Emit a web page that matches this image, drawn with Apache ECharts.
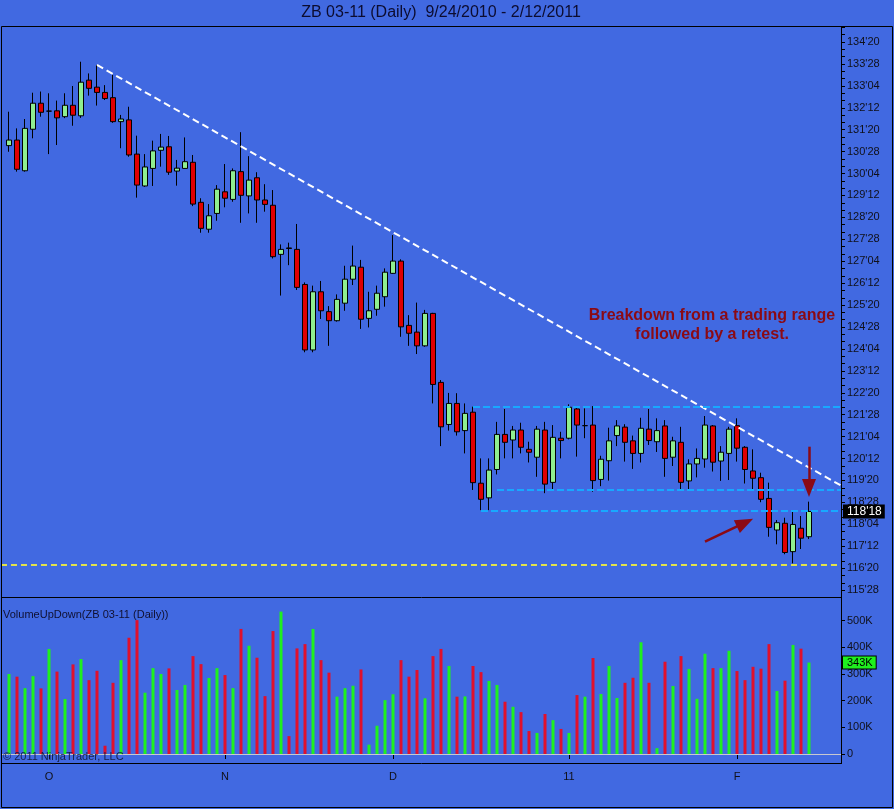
<!DOCTYPE html>
<html>
<head>
<meta charset="utf-8">
<title>ZB 03-11 (Daily)</title>
<script src="https://cdn.jsdelivr.net/npm/echarts@6/dist/echarts.min.js"></script>
<style>
    html, body { margin: 0; padding: 0; background: #4169e1; }
    #chart { width: 894px; height: 809px; }
</style>
</head>
<body>
<div id="chart"></div>
<script>
'use strict';

// ---------------------------------------------------------------------------------------------
// DATA, one entry per daily bar, 9/24/2010 .. 2/11/2011
const opens = [
    131.08, 131.27, 130.22, 131.64, 132.53, 132.26, 132.27, 132.07, 132.46, 132.10,
    133.32, 133.08, 132.90, 132.72, 131.90, 131.96, 130.79, 129.70, 130.30, 130.92,
    131.04, 130.21, 130.30, 130.51, 129.14, 128.22, 128.76, 129.50, 129.24, 130.19,
    129.36, 129.98, 129.22, 129.04, 127.36, 127.58, 127.53, 126.33, 124.09, 126.08,
    125.40, 125.09, 125.69, 126.51, 126.92, 125.17, 125.48, 125.91, 126.71, 127.13,
    124.93, 124.70, 124.23, 125.34, 122.98, 121.54, 122.26, 121.33, 121.96, 119.53,
    119.03, 120.00, 121.20, 121.01, 121.35, 120.69, 120.42, 121.35, 119.56, 121.07,
    121.07, 122.07, 121.50, 121.52, 119.66, 120.30, 121.16, 121.45, 120.98, 120.55,
    121.38, 120.95, 121.49, 120.42, 120.93, 119.61, 120.19, 120.36, 121.49, 120.29,
    120.55, 121.50, 120.76, 119.95, 119.72, 119.01, 117.93, 118.16, 117.19, 117.99,
    117.70
];
const closes = [
    131.27, 130.27, 131.67, 132.53, 132.22, 132.26, 132.03, 132.46, 132.12, 133.25,
    133.04, 132.90, 132.69, 131.90, 131.99, 130.76, 129.73, 130.35, 130.90, 131.03,
    130.17, 130.31, 130.53, 129.08, 128.25, 128.68, 129.59, 129.28, 130.22, 129.38,
    129.90, 129.22, 129.07, 127.28, 127.53, 127.56, 126.23, 124.09, 126.08, 125.43,
    125.09, 125.82, 126.51, 126.96, 125.14, 125.43, 126.03, 126.75, 127.13, 124.88,
    124.66, 124.23, 125.34, 122.91, 121.46, 122.26, 121.29, 121.92, 119.55, 118.98,
    119.98, 121.20, 120.93, 121.35, 120.76, 120.59, 121.38, 119.50, 121.10, 120.99,
    122.13, 121.52, 121.50, 119.62, 120.35, 120.98, 121.49, 120.93, 120.55, 121.41,
    120.99, 121.33, 120.38, 120.98, 119.56, 120.19, 120.38, 121.52, 120.25, 120.59,
    121.38, 120.73, 120.00, 119.70, 118.98, 118.02, 118.18, 117.16, 118.12, 117.65,
    118.5625
];
const lows = [
    130.87, 130.19, 130.19, 131.33, 132.07, 130.79, 131.10, 132.02, 131.76, 132.03,
    132.79, 132.45, 132.64, 131.86, 130.99, 130.70, 129.30, 129.67, 129.70, 130.36,
    130.08, 129.71, 130.30, 129.01, 128.10, 128.10, 128.51, 128.97, 129.16, 128.44,
    128.76, 128.44, 128.82, 127.22, 125.95, 126.99, 126.14, 124.01, 124.01, 125.15,
    124.23, 125.06, 125.43, 126.31, 124.81, 124.86, 125.26, 125.57, 126.69, 124.54,
    124.23, 123.95, 124.20, 122.26, 120.80, 121.33, 121.16, 120.55, 119.30, 118.61,
    118.61, 119.83, 120.38, 120.38, 120.55, 120.24, 119.75, 119.19, 119.30, 120.38,
    121.03, 120.44, 121.07, 119.24, 119.43, 119.62, 120.80, 120.27, 120.02, 120.24,
    120.84, 120.60, 119.75, 120.12, 119.30, 119.32, 119.73, 120.06, 119.93, 119.61,
    119.64, 120.27, 119.52, 119.32, 118.88, 117.70, 117.44, 117.10, 116.79, 117.28,
    117.62
];
const highs = [
    132.24, 131.67, 131.99, 132.89, 132.93, 132.87, 132.62, 132.87, 133.12, 133.95,
    133.55, 133.84, 133.15, 133.50, 132.13, 132.41, 131.42, 130.79, 131.25, 131.48,
    131.41, 130.59, 131.36, 130.76, 129.28, 129.08, 129.73, 130.45, 130.30, 131.54,
    130.72, 130.17, 129.76, 129.56, 127.70, 127.76, 128.40, 126.40, 126.29, 126.45,
    125.59, 125.99, 126.97, 127.66, 127.17, 126.08, 126.29, 126.88, 128.02, 127.19,
    125.28, 125.71, 125.46, 125.36, 123.06, 122.62, 122.61, 122.26, 122.15, 120.38,
    120.38, 121.63, 122.07, 121.49, 121.60, 120.95, 121.49, 121.63, 121.52, 121.29,
    122.23, 122.15, 122.09, 122.17, 120.47, 121.43, 121.69, 121.55, 121.16, 121.77,
    122.07, 121.75, 121.69, 121.12, 121.46, 120.35, 120.72, 121.83, 121.52, 120.80,
    121.46, 121.75, 120.80, 120.69, 119.89, 119.55, 118.27, 118.35, 118.56, 118.41,
    118.90
];
// volume in thousands of contracts
const volumesK = [
    300, 290, 247, 292, 246, 394, 309, 206, 336, 356,
    277, 312, 31, 267, 352, 436, 502, 230, 322, 300,
    321, 240, 259, 367, 337, 285, 322, 296, 247, 469,
    406, 361, 217, 461, 534, 67, 396, 412, 469, 352,
    305, 215, 247, 256, 317, 35, 106, 202, 224, 352,
    290, 315, 209, 367, 394, 330, 215, 216, 330, 307,
    274, 259, 196, 177, 157, 86, 79, 150, 127, 94,
    79, 221, 215, 360, 225, 330, 210, 267, 286, 419,
    267, 22, 346, 255, 367, 319, 207, 376, 322, 322,
    387, 311, 277, 327, 320, 412, 236, 275, 409, 395,
    343
];

// month markers on the time axis (bar index of first session)
const monthStarts = [5, 27, 48, 70, 91];
const monthLabels = ['O', 'N', 'D', '11', 'F'];

// price axis labels, in points and 32nds
const priceTickLabels = [
    "115'28", "116'20", "117'12", "118'04", "118'28", "119'20", "120'12", "121'04", "121'28",
    "122'20", "123'12", "124'04", "124'28", "125'20", "126'12", "127'04", "127'28", "128'20",
    "129'12", "130'04", "130'28", "131'20", "132'12", "133'04", "133'28", "134'20"
];
const volumeTicksK = [0, 100, 200, 300, 400, 500];

// drawing objects on the chart: [bar index, price]
const trendLine = [[11, 133.84], [104, 119.45]];
const rangeTop = [[58, 122.14], [104, 122.14]];
const rangeMid = [[61, 119.30], [104, 119.30]];
const rangeLow = [[59, 118.58], [104, 118.58]];
const supportLine = [[-1, 116.73], [104, 116.73]];
const arrowBreak = [[87, 117.53], [92, 118.18]];
const arrowRetest = [[100, 120.78], [100, 119.37]];

// ---------------------------------------------------------------------------------------------
// helpers

// one empty slot in front of the first bar, axis ends 4 slots after the last one
const SLOTS = 106;
const categories = [];
for (let k = 0; k < SLOTS; k++) categories.push(String(k));

function parse32(s) {
    let parts = s.split("'");
    return Number(parts[0]) + Number(parts[1]) / 32;
}

function fmt32(v) {
    let w = Math.floor(v + 1e-9);
    let t = Math.round((v - w) * 32);
    if (t === 32) { w += 1; t = 0; }
    return w + "'" + (t < 10 ? '0' + t : t);
}

function pt(p) {
    // bar index -> category slot
    return { coord: [String(p[0] + 1), p[1]] };
}

const priceTicks = priceTickLabels.map(parse32);
const PRICE_MIN = 115.638;
const PRICE_MAX = 135.138;

let minorTicks = [];
for (let v = priceTicks[0]; v < PRICE_MAX; v += 0.25) minorTicks.push(v);
for (let v = priceTicks[0] - 0.25; v > PRICE_MIN; v -= 0.25) minorTicks.push(v);

const isMonthStart = (idx) => monthStarts.indexOf(idx - 1) >= 0;

let candleData = [['-', '-', '-', '-']];
let volumeData = ['-'];
for (let i = 0; i < opens.length; i++) {
    candleData.push([opens[i], closes[i], lows[i], highs[i]]);
    volumeData.push({
        value: volumesK[i] * 1000,
        itemStyle: { color: closes[i] >= opens[i] ? '#1ff01f' : '#e0102c' }
    });
}

const lastClose = closes[closes.length - 1];
const lastVolume = volumesK[volumesK.length - 1] * 1000;

const FONT = '"Liberation Sans", Arial, sans-serif';
const DARK_RED = '#8b0a14';
const RANGE_BLUE = '#18a8ff';
const HIDDEN = 'rgba(0,0,0,0)';

// ---------------------------------------------------------------------------------------------
// CHART

const chart = echarts.init(document.getElementById('chart'), null, { renderer: 'canvas' });

const option = {
    backgroundColor: '#4169e1',
    animation: false,
    textStyle: { fontFamily: FONT },
    grid: [
        { left: 1, right: 53, top: 27, bottom: 212 },
        { left: 1, right: 53, top: 598, bottom: 55 }
    ],
    xAxis: [
        {
            type: 'category', gridIndex: 0, data: categories, boundaryGap: false, show: false
        },
        {
            type: 'category', gridIndex: 1, data: categories, boundaryGap: false,
            offset: 9,
            axisLine: { show: false },
            axisTick: {
                show: true, length: 5, interval: isMonthStart,
                lineStyle: { color: '#000', width: 1 }
            },
            axisLabel: {
                interval: isMonthStart, margin: 8, color: '#101018', fontSize: 11,
                formatter: (v, idx) => {
                    let m = monthStarts.indexOf(idx - 1);
                    return m >= 0 ? monthLabels[m] : '';
                }
            },
            splitLine: { show: false }
        }
    ],
    yAxis: [
        {
            type: 'value', gridIndex: 0, position: 'right', scale: true,
            min: PRICE_MIN, max: PRICE_MAX,
            axisLine: { show: false },
            axisTick: {
                show: true, length: 4, customValues: minorTicks,
                lineStyle: { color: '#000', width: 1 }
            },
            axisLabel: {
                customValues: priceTicks, margin: 6, color: '#101018', fontSize: 11,
                formatter: fmt32
            },
            splitLine: { show: false }
        },
        {
            type: 'value', gridIndex: 1, position: 'right',
            min: 0, max: 585000,
            axisLine: { show: false },
            axisTick: {
                show: true, length: 4, customValues: volumeTicksK.map(v => v * 1000),
                lineStyle: { color: '#000', width: 1 }
            },
            axisLabel: {
                customValues: volumeTicksK.map(v => v * 1000), margin: 6, color: '#101018', fontSize: 11,
                formatter: v => v === 0 ? '0' : (v / 1000) + 'K'
            },
            splitLine: { show: false }
        }
    ],
    series: [
        {
            name: 'ZB 03-11',
            type: 'candlestick',
            xAxisIndex: 0,
            yAxisIndex: 0,
            barWidth: 5,
            data: candleData,
            itemStyle: {
                color: '#90ee90',
                color0: '#e00000',
                borderColor: '#000',
                borderColor0: '#000',
                borderColorDoji: '#000',
                borderWidth: 1
            },
            markLine: {
                silent: true,
                symbol: ['none', 'none'],
                label: { show: false },
                data: [
                    [
                        Object.assign(pt(trendLine[0]), { lineStyle: { color: '#ffffff', width: 2, type: [7, 4] } }),
                        pt(trendLine[1])
                    ],
                    [
                        Object.assign(pt(rangeTop[0]), { lineStyle: { color: RANGE_BLUE, width: 2, type: [7, 3] } }),
                        pt(rangeTop[1])
                    ],
                    [
                        Object.assign(pt(rangeMid[0]), { lineStyle: { color: RANGE_BLUE, width: 2, type: [7, 3] } }),
                        pt(rangeMid[1])
                    ],
                    [
                        Object.assign(pt(rangeLow[0]), { lineStyle: { color: RANGE_BLUE, width: 2, type: [7, 3] } }),
                        pt(rangeLow[1])
                    ],
                    [
                        Object.assign(pt(supportLine[0]), { lineStyle: { color: '#e2e24a', width: 2, type: [6, 4] } }),
                        pt(supportLine[1])
                    ],
                    [
                        Object.assign(pt(arrowBreak[0]), { lineStyle: { color: DARK_RED, width: 2.5, type: 'solid' } }),
                        Object.assign(pt(arrowBreak[1]), { symbol: 'triangle', symbolSize: [14, 18] })
                    ],
                    [
                        Object.assign(pt(arrowRetest[0]), { lineStyle: { color: DARK_RED, width: 2.5, type: 'solid' } }),
                        Object.assign(pt(arrowRetest[1]), { symbol: 'triangle', symbolSize: [14, 18] })
                    ],
                    // last price marker on the axis
                    {
                        yAxis: lastClose,
                        lineStyle: { color: HIDDEN, width: 1, type: 'solid' },
                        label: {
                            show: true, position: 'end', distance: 2,
                            formatter: () => fmt32(lastClose),
                            color: '#fff', backgroundColor: '#000', fontSize: 12,
                            padding: [1, 3, 1, 4]
                        }
                    }
                ]
            }
        },
        {
            name: 'VolumeUpDown',
            type: 'bar',
            xAxisIndex: 1,
            yAxisIndex: 1,
            barWidth: 3,
            data: volumeData,
            markLine: {
                silent: true,
                symbol: ['none', 'none'],
                label: { show: false },
                data: [
                    { yAxis: 0, lineStyle: { color: '#c8c8d0', width: 1, type: 'solid' } },
                    {
                        yAxis: lastVolume,
                        lineStyle: { color: HIDDEN, width: 1, type: 'solid' },
                        label: {
                            show: true, position: 'end', distance: 2,
                            formatter: () => (lastVolume / 1000) + 'K',
                            color: '#000', backgroundColor: '#1ff01f',
                            borderColor: '#000', borderWidth: 1,
                            fontSize: 11, padding: [1, 3, 0, 4]
                        }
                    }
                ]
            }
        }
    ],
    graphic: [
        // frames
        { type: 'rect', z: 50, silent: true, shape: { x: 1.5, y: 26.5, width: 891, height: 781 },
          style: { fill: null, stroke: '#000', lineWidth: 1 } },
        { type: 'line', z: 50, silent: true, shape: { x1: 841.5, y1: 27, x2: 841.5, y2: 764 },
          style: { stroke: '#000', lineWidth: 1 } },
        { type: 'line', z: 50, silent: true, shape: { x1: 1, y1: 597.5, x2: 842, y2: 597.5 },
          style: { stroke: '#000', lineWidth: 1 } },
        { type: 'line', z: 50, silent: true, shape: { x1: 1, y1: 763.5, x2: 842, y2: 763.5 },
          style: { stroke: '#000', lineWidth: 1 } },
        // texts
        { type: 'text', z: 60, silent: true, x: 441, y: 13,
          style: { text: 'ZB 03-11 (Daily)  9/24/2010 - 2/12/2011', align: 'center', verticalAlign: 'middle',
                   font: '16px ' + FONT, fill: '#0c0c30' } },
        { type: 'text', z: 60, silent: true, x: 712, y: 316,
          style: { text: 'Breakdown from a trading range', align: 'center', verticalAlign: 'middle',
                   font: 'bold 16px ' + FONT, fill: DARK_RED } },
        { type: 'text', z: 60, silent: true, x: 712, y: 335,
          style: { text: 'followed by a retest.', align: 'center', verticalAlign: 'middle',
                   font: 'bold 16px ' + FONT, fill: DARK_RED } },
        { type: 'text', z: 60, silent: true, x: 3, y: 615,
          style: { text: 'VolumeUpDown(ZB 03-11 (Daily))', align: 'left', verticalAlign: 'middle',
                   font: '11px ' + FONT, fill: '#101030' } },
        { type: 'text', z: 60, silent: true, x: 3, y: 757,
          style: { text: '\u00a9 2011 NinjaTrader, LLC', align: 'left', verticalAlign: 'middle',
                   font: '11px ' + FONT, fill: '#18204a' } }
    ]
};

chart.setOption(option);
</script>
</body>
</html>
